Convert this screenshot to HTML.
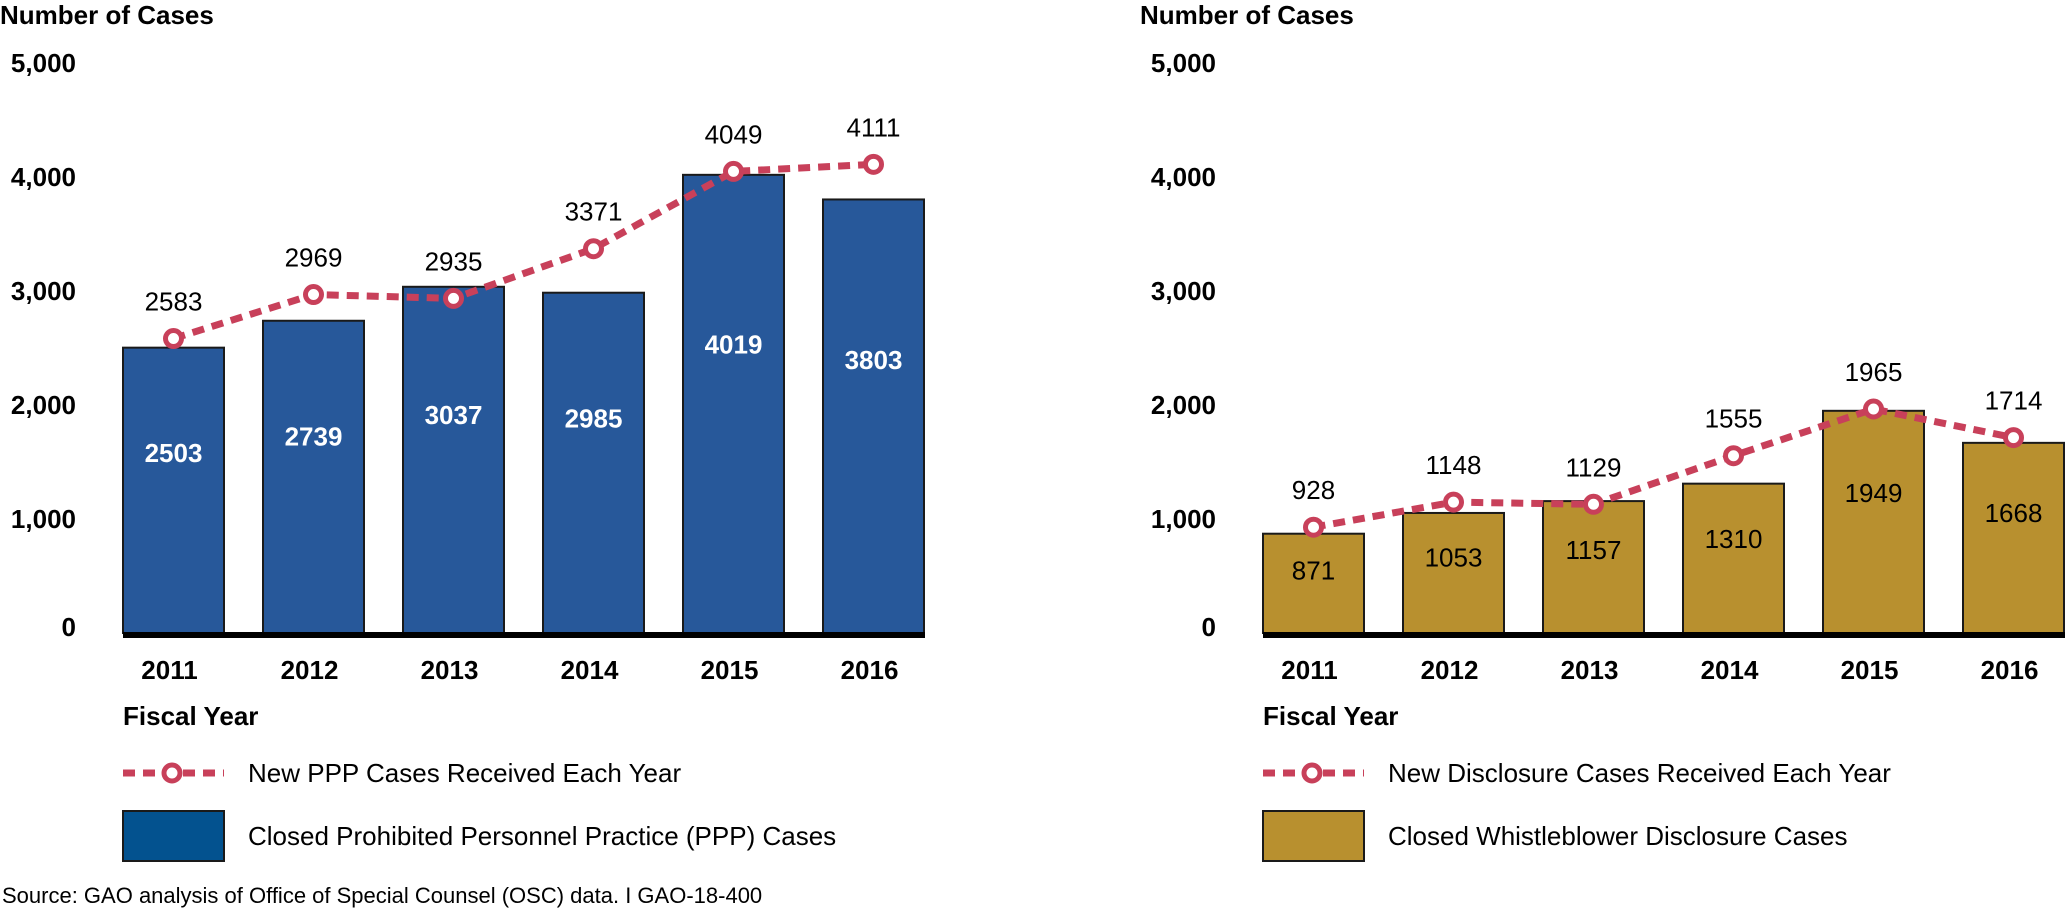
<!DOCTYPE html>
<html><head><meta charset="utf-8"><style>
html,body{margin:0;padding:0;background:#fff;}
svg{display:block;font-family:"Liberation Sans",Arial,sans-serif;}
</style></head><body>
<svg id="chart" width="2067" height="909" viewBox="0 0 2067 909" xmlns="http://www.w3.org/2000/svg"></svg>
<script>
const years = ["2011","2012","2013","2014","2015","2016"];
const pppClosed = [2503,2739,3037,2985,4019,3803];
const pppNew = [2583,2969,2935,3371,4049,4111];
const discClosed = [871,1053,1157,1310,1949,1668];
const discNew = [928,1148,1129,1555,1965,1714];
const yTicks = [0,1000,2000,3000,4000,5000];
const yTickLabels = ["0","1,000","2,000","3,000","4,000","5,000"];

const NS="http://www.w3.org/2000/svg";
const svg=document.getElementById('chart');
function mk(tag,attrs,parent){const e=document.createElementNS(NS,tag);for(const k in attrs)e.setAttribute(k,attrs[k]);(parent||svg).appendChild(e);return e;}
const base=633, top5000=63;
function yS(v){return base-(v/5000)*(base-top5000);}

function panel(x0,closed,received,barColor,labelColor,labelBold,lineName,barName,prefix){
  const g=mk('g',{});
  
  
  const step=140,bw=101;
  function xS(i){return x0+i*step;}
  let t=mk('text',{x:x0-123,y:24,'font-size':26,'font-weight':'bold',fill:'#000'},g);t.textContent='Number of Cases';
  
  yTicks.forEach((v,i)=>{const l=mk('text',{x:x0-47,y:yS(v)+(v===0?3:9),'font-size':26,'font-weight':'bold','text-anchor':'end',fill:'#000'},g);l.textContent=yTickLabels[i];
    });
  closed.forEach((v,i)=>{
    const r=mk('rect',{x:xS(i),y:yS(v),width:bw,height:base-yS(v),fill:barColor,stroke:'#1a1a1a','stroke-width':2},g);
    
    const l=mk('text',{x:xS(i)+bw/2,y:yS(v*0.63)+9,'font-size':26,'font-weight':labelBold?'bold':'normal','text-anchor':'middle',fill:labelColor},g);l.textContent=v;
    
    const yl=mk('text',{x:xS(i)+bw/2-4,y:679,'font-size':26,'font-weight':'bold','text-anchor':'middle',fill:'#000'},g);yl.textContent=years[i];
    
  });
  const ax=mk('line',{x1:x0,y1:base+2,x2:xS(5)+bw+1,y2:base+2,stroke:'#000','stroke-width':6},g);
  
  const pts=received.map((v,i)=>(xS(i)+bw/2)+','+yS(v)).join(' ');
  const pl=mk('polyline',{points:pts,fill:'none',stroke:'#c8405a','stroke-width':7,'stroke-dasharray':'12,8'},g);
  
  received.forEach((v,i)=>{
    const c=mk('circle',{cx:xS(i)+bw/2,cy:yS(v),r:8,fill:'#fff',stroke:'#c8405a','stroke-width':5},g);
    
    const l=mk('text',{x:xS(i)+bw/2,y:yS(v)-28,'font-size':26,'text-anchor':'middle',fill:'#000'},g);l.textContent=v;
    
  });
  t=mk('text',{x:x0,y:725,'font-size':26,'font-weight':'bold',fill:'#000'},g);t.textContent='Fiscal Year';
  
  const lg=mk('g',{},g);
  const ll=mk('line',{x1:x0,y1:773,x2:x0+101,y2:773,stroke:'#c8405a','stroke-width':7,'stroke-dasharray':'12,8'},lg);
  
  const lc=mk('circle',{cx:x0+49,cy:773,r:8,fill:'#fff',stroke:'#c8405a','stroke-width':5},lg);
  
  t=mk('text',{x:x0+125,y:782,'font-size':26,fill:'#000'},lg);t.textContent=lineName;
  
  const lb=mk('rect',{x:x0,y:811,width:101,height:50,fill:barColor==='#27589a'?'#03528f':barColor,stroke:'#1a1a1a','stroke-width':2},lg);
  
  t=mk('text',{x:x0+125,y:845,'font-size':26,fill:'#000'},lg);t.textContent=barName;
  
}
panel(123,pppClosed,pppNew,'#27589a','#fff',true,'New PPP Cases Received Each Year','Closed Prohibited Personnel Practice (PPP) Cases','ppp');
panel(1263,discClosed,discNew,'#b8902f','#000',false,'New Disclosure Cases Received Each Year','Closed Whistleblower Disclosure Cases','disclosure');
const src=mk('text',{x:2,y:903,'font-size':22,fill:'#000'});
src.textContent='Source: GAO analysis of Office of Special Counsel (OSC) data. I GAO-18-400';


</script>
</body></html>
